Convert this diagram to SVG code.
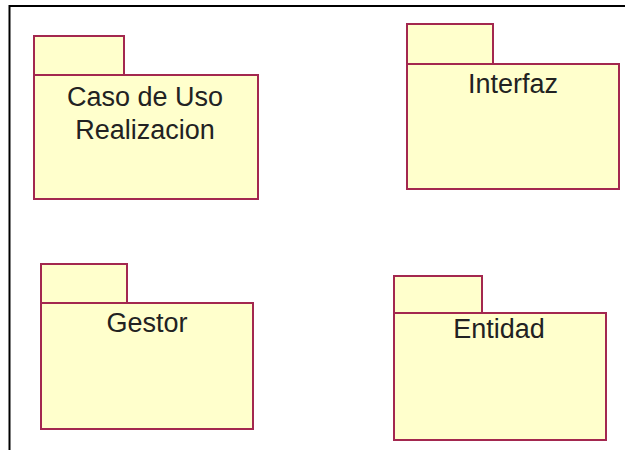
<svg xmlns="http://www.w3.org/2000/svg" width="625" height="450" viewBox="0 0 625 450">
<style>
.pkg rect{fill:#ffffcc;stroke:#a3284f;stroke-width:2}
.lbl{font-family:"Liberation Sans",Arial,sans-serif;font-size:27px;fill:#222;text-anchor:middle}
.frame{fill:none;stroke:#000;stroke-width:2}
</style>
<rect width="625" height="450" fill="#fff"/>
<path class="frame" d="M9.5,451 V6 H626"/>
<g id="casoDeUso" class="pkg">
<rect x="34" y="36" width="90" height="39"/>
<rect x="34" y="75" width="224" height="124"/>
<text class="lbl" x="145" y="106">Caso de Uso</text>
<text class="lbl" x="145" y="139">Realizacion</text>
</g>
<g id="interfaz" class="pkg">
<rect x="407" y="24" width="86" height="40"/>
<rect x="407" y="64" width="212" height="125"/>
<text class="lbl" x="513" y="93">Interfaz</text>
</g>
<g id="gestor" class="pkg">
<rect x="41" y="264" width="86" height="39"/>
<rect x="41" y="303" width="212" height="126"/>
<text class="lbl" x="147" y="332">Gestor</text>
</g>
<g id="entidad" class="pkg">
<rect x="394" y="276" width="88" height="37"/>
<rect x="394" y="313" width="212" height="127"/>
<text class="lbl" x="499" y="338">Entidad</text>
</g>
<g id="connectors"></g>
</svg>
